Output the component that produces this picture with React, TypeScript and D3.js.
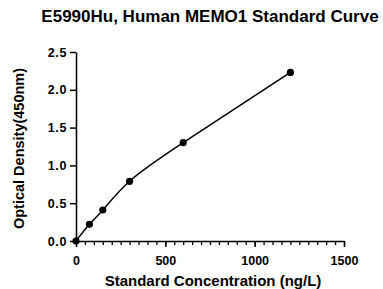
import React, { useRef, useEffect } from "react";
import * as d3 from "d3";

// standard points
const concentrations = [0, 75, 150, 300, 600, 1200];
const densities = [0, 0.22, 0.41, 0.79, 1.3, 2.23];
const xTicks = [0, 500, 1000, 1500];
const yTicks = [0, 0.5, 1, 1.5, 2, 2.5];

const title = "E5990Hu, Human MEMO1 Standard Curve";
const xLabel = "Standard Concentration (ng/L)";
const yLabel = "Optical Density(450nm)";

function StandardCurve() {
  const svgRef = useRef<SVGSVGElement>(null);

  useEffect(() => {
    const svg = d3.select(svgRef.current);
    svg.selectAll("*").remove();

    const width = 383;
    const height = 289;
    const font = "Liberation Sans, Arial, sans-serif";

    const x = d3.scaleLinear().domain([0, 1500]).range([76, 344]);
    const y = d3.scaleLinear().domain([0, 2.5]).range([241, 52]);

    svg.attr("width", width).attr("height", height);

    // title
    svg.append("text")
      .attr("x", 210)
      .attr("y", 22)
      .attr("text-anchor", "middle")
      .attr("font-family", font)
      .attr("font-size", "17px")
      .attr("font-weight", "bold")
      .text(title);

    // x axis with minor ticks every 50
    const xAxis = svg.append("g").attr("transform", `translate(0, ${y(0)})`);
    xAxis.call(d3.axisBottom(x).tickValues(d3.range(0, 1501, 50)).tickSize(4).tickFormat(() => ""));
    xAxis.call(g => g.select(".domain").remove());
    xAxis.selectAll("line").attr("stroke", "#000").attr("stroke-width", 1.3);
    const xMajor = svg.append("g").attr("transform", `translate(0, ${y(0)})`);
    xMajor.call(d3.axisBottom(x).tickValues(xTicks).tickSize(6).tickSizeOuter(0).tickFormat(d3.format("d")));
    xMajor.select(".domain").attr("stroke-width", 1.6);
    xMajor.selectAll("line").attr("stroke-width", 1.5);
    xMajor.selectAll("text")
      .attr("font-family", font)
      .attr("font-size", "12.5px")
      .attr("font-weight", "bold")
      .attr("y", 24)
      .attr("dy", 0);

    // y axis
    const yAxis = svg.append("g").attr("transform", `translate(${x(0)}, 0)`);
    yAxis.call(d3.axisLeft(y).tickValues(yTicks).tickSize(6).tickSizeOuter(0).tickFormat(d3.format(".1f")));
    yAxis.select(".domain").attr("stroke-width", 1.6);
    yAxis.selectAll("line").attr("stroke-width", 1.5);
    yAxis.selectAll("text")
      .attr("font-family", font)
      .attr("font-size", "12.5px")
      .attr("font-weight", "bold")
      .attr("letter-spacing", "0.6px")
      .attr("x", -9);

    // axis labels
    svg.append("text")
      .attr("x", 213)
      .attr("y", 286)
      .attr("text-anchor", "middle")
      .attr("font-family", font)
      .attr("font-size", "15px")
      .attr("font-weight", "bold")
      .text(xLabel);
    svg.append("text")
      .attr("transform", `translate(24, 148.5) rotate(-90)`)
      .attr("text-anchor", "middle")
      .attr("font-family", font)
      .attr("font-size", "14.5px")
      .attr("font-weight", "bold")
      .text(yLabel);

    // smooth curve through the standards
    const pts = concentrations.map((c, i) => [c, densities[i]] as [number, number]);
    const line = d3.line<[number, number]>()
      .x(d => x(d[0]))
      .y(d => y(d[1]))
      .curve(d3.curveNatural);
    svg.append("path")
      .datum(pts)
      .attr("fill", "none")
      .attr("stroke", "#000")
      .attr("stroke-width", 1.5)
      .attr("d", line);

    // points
    svg.append("g")
      .selectAll("circle")
      .data(pts)
      .enter()
      .append("circle")
      .attr("cx", d => x(d[0]))
      .attr("cy", d => y(d[1]))
      .attr("r", 3.6)
      .attr("fill", "#000");
  }, []);

  return <svg ref={svgRef} style={{ position: "absolute", left: 0, top: 0 }}></svg>;
}

export default function App() {
  return <StandardCurve />;
}
